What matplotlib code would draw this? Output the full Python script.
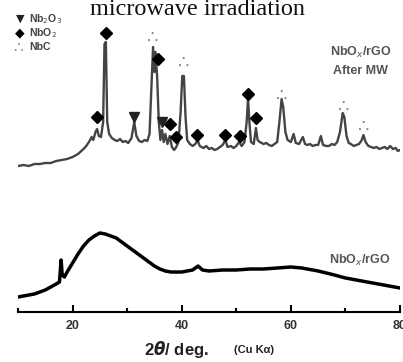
import matplotlib
matplotlib.use("Agg")
import matplotlib.pyplot as plt

# ---------------- data ----------------
upper_2theta = [10.0, 11.0, 12.0, 13.0, 14.0, 15.0, 16.0, 17.0, 18.0, 19.0, 20.0, 21.0, 22.0, 22.5, 23.0,
                23.5, 23.8, 24.2, 24.5, 24.8, 25.2, 25.6, 25.85, 26.1, 26.35, 26.7, 27.2, 27.7, 28.2, 28.7,
                29.2, 29.7, 30.2, 30.8, 31.3, 31.7, 32.2, 32.7, 33.2, 33.7, 34.1, 34.5, 34.75, 35.0, 35.2,
                35.5, 35.8, 36.1, 36.4, 36.7, 37.0, 37.4, 37.8, 38.2, 38.6, 39.0, 39.4, 39.8, 40.1, 40.4,
                40.7, 41.0, 41.5, 42.0, 42.5, 42.9, 43.3, 44.0, 44.5, 45.0, 45.5, 46.0, 46.5, 47.0, 47.5,
                48.0, 48.4, 49.0, 49.5, 50.0, 50.5, 51.0, 51.5, 51.9, 52.15, 52.4, 52.7, 53.2, 53.6, 53.9,
                54.3, 55.0, 55.5, 56.0, 56.5, 57.0, 57.5, 57.9, 58.3, 58.6, 59.0, 59.4, 60.0, 60.5, 60.9,
                61.5, 62.2, 62.6, 63.0, 63.5, 64.0, 64.5, 65.0, 65.5, 65.9, 66.5, 67.0, 67.5, 68.0, 68.5,
                69.0, 69.5, 69.8, 70.2, 70.6, 71.0, 71.5, 72.0, 72.5, 73.0, 73.3, 73.7, 74.2, 74.7, 75.2,
                75.7, 76.2, 76.7, 77.2, 77.7, 78.2, 78.7, 79.2, 79.6, 80.0]
upper_int = [146, 147, 146, 148, 148, 149, 149, 151, 152, 153, 155, 158, 163, 166, 170,
             175, 172, 180, 183, 176, 175, 190, 268, 270, 190, 178, 174, 172, 171, 173,
             170, 171, 169, 174, 190, 176, 171, 170, 172, 171, 178, 230, 265, 240, 260,
             235, 190, 172, 182, 170, 178, 168, 176, 165, 162, 165, 170, 200, 236, 236,
             195, 172, 168, 166, 168, 172, 166, 164, 166, 163, 164, 162, 163, 165, 167,
             172, 165, 166, 164, 166, 170, 166, 170, 190, 214, 190, 170, 168, 184, 172,
             170, 168, 169, 167, 166, 168, 170, 190, 213, 205, 180, 172, 170, 178, 169,
             168, 175, 168, 167, 168, 166, 167, 167, 176, 167, 166, 166, 168, 167, 170,
             180, 199, 195, 176, 169, 168, 166, 167, 168, 172, 177, 170, 166, 165, 164,
             165, 163, 164, 165, 163, 166, 163, 164, 161, 162]

lower_2theta = [10, 11, 12, 13, 14, 15, 16, 17, 17.6, 17.9, 18.1, 18.5, 19, 20, 21, 22, 23, 24, 25, 26,
                27, 28, 29, 30, 31, 32, 33, 34, 35, 36, 37, 38, 39, 40, 41, 42, 43, 43.8, 45, 47.5,
                50, 52.5, 55, 57.5, 60, 62, 65, 68, 70, 72, 75, 78, 80]
lower_int = [15, 16, 17, 18, 20, 22, 25, 28, 30, 52, 37, 35, 40, 49, 58, 66, 72, 76, 79, 78,
             76, 74, 70, 66, 62, 58, 54, 50, 46, 43, 41, 40, 40, 40, 41, 42, 46, 42, 41, 42,
             42, 43, 43, 44, 45, 44, 41, 37, 34, 32, 29, 26, 24]

nb2o3_pos = [31.3, 36.4]
nb2o3_int = [195, 190]
nbo2_pos = [24.5, 26.1, 35.7, 37.9, 38.9, 42.8, 48.0, 50.6, 52.2, 53.7]
nbo2_int = [195, 279, 253, 188, 175, 177, 177, 176, 218, 194]
nbc_pos = [34.6, 40.3, 58.4, 69.6, 73.3]
nbc_int = [274, 249, 216, 205, 185]

xticks_major = [20, 40, 60, 80]
xticks_minor = [10, 30, 50, 70]

# ---------------- figure ----------------
W, H = 403, 362
fig = plt.figure(figsize=(W / 100, H / 100), dpi=100)
ax = fig.add_axes([18 / W, 50 / H, (400 - 18) / W, (H - 50) / H])
ax.set_xlim(10, 80)
ax.set_ylim(0, 312)

ax.plot(upper_2theta, upper_int, color="#444444", lw=1.7, solid_joinstyle="round")
ax.plot(lower_2theta, lower_int, color="black", lw=2.5, solid_joinstyle="round")

ax.plot(nbo2_pos, nbo2_int, linestyle="none", marker="D", ms=6.5, color="black")
ax.plot(nb2o3_pos, nb2o3_int, linestyle="none", marker="v", ms=7, color="#222222")
for p, v in zip(nbc_pos, nbc_int):
    ax.text(p, v, "∴", ha="center", va="center", fontsize=13, color="#8c8c8c")

for s in ["left", "right", "top"]:
    ax.spines[s].set_visible(False)
ax.spines["bottom"].set_linewidth(1.5)
ax.set_yticks([])
ax.set_xticks(xticks_major)
ax.set_xticks(xticks_minor, minor=True)
ax.tick_params(axis="x", which="major", direction="in", length=5, width=1.5, pad=6)
ax.tick_params(axis="x", which="minor", direction="in", length=3, width=1.5)
ax.set_xticklabels([str(t) for t in xticks_major], fontsize=9, fontweight="bold",
                   color="#333333", family="Liberation Sans")
ax.patch.set_alpha(0)

def fx(px):
    return px / W

def fy(py):
    return 1 - py / H

# title (partly cut at top)
fig.text(fx(198), fy(15), "microwave irradiation", ha="center", va="baseline",
         fontsize=17.5, family="Liberation Serif", color="#111111")

# legend
fig.text(fx(20), fy(19), "▼", ha="center", va="center", fontsize=8, color="#222222")
fig.text(fx(29), fy(19), "Nb$_2$O$_3$", ha="left", va="center", fontsize=7.5,
         fontweight="bold", color="#444444", family="Liberation Sans")
fig.text(fx(20), fy(33), "◆", ha="center", va="center", fontsize=9, color="black")
fig.text(fx(29), fy(33), "NbO$_2$", ha="left", va="center", fontsize=7.5,
         fontweight="bold", color="#444444", family="Liberation Sans")
fig.text(fx(18), fy(47), "∴", ha="center", va="center", fontsize=11, color="#8c8c8c")
fig.text(fx(29), fy(47), "NbC", ha="left", va="center", fontsize=7.5,
         fontweight="bold", color="#444444", family="Liberation Sans")

# sample labels
fig.text(fx(361), fy(52), "NbO$_x$/rGO", ha="center", va="center", fontsize=9,
         fontweight="bold", color="#555555", family="Liberation Sans")
fig.text(fx(360), fy(71), "After MW", ha="center", va="center", fontsize=9,
         fontweight="bold", color="#555555", family="Liberation Sans")
fig.text(fx(360), fy(260), "NbO$_x$/rGO", ha="center", va="center", fontsize=9,
         fontweight="bold", color="#555555", family="Liberation Sans")

# x label
fig.text(fx(176), fy(350), r"2$\boldsymbol{\theta}$/ deg.", ha="center", va="center",
         fontsize=12, fontweight="bold", color="#222222", family="Liberation Sans")
fig.text(fx(254), fy(350), "(Cu Kα)", ha="center", va="center", fontsize=8,
         fontweight="bold", color="#222222", family="Liberation Sans")

fig.savefig("out.png", dpi=100)
